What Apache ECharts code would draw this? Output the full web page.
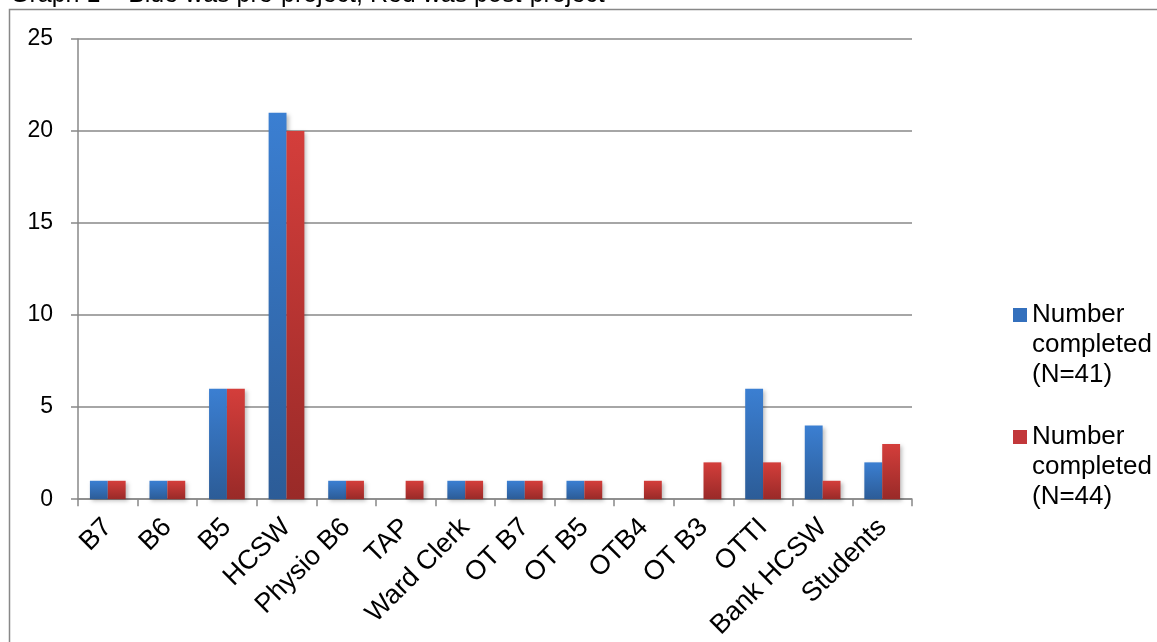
<!DOCTYPE html>
<html><head><meta charset="utf-8">
<script src="https://cdn.jsdelivr.net/npm/echarts@6/dist/echarts.min.js"></script>
<style>html,body{margin:0;padding:0;background:#fff}#c{width:1157px;height:642px}</style>
</head><body><div id="c"></div>
<script>
const categories = ['B7','B6','B5','HCSW','Physio B6','TAP','Ward Clerk','OT B7','OT B5','OTB4','OT B3','OTTI','Bank HCSW','Students'];
const preValues = [1,1,6,21,1,0,1,1,1,0,0,6,4,2];
const postValues = [1,1,6,20,1,1,1,1,1,1,2,2,1,3];
const seriesNames = ['Number\ncompleted\n(N=41)','Number\ncompleted\n(N=44)'];
const yTicks = {min:0, max:25, interval:5};
const titleText = 'Graph 1 – Blue was pre-project, Red was post-project';

const FONT = '"Liberation Sans", Arial, sans-serif';
const chart = echarts.init(document.getElementById('c'), null, {renderer:'canvas'});
const blueGrad = new echarts.graphic.LinearGradient(0,0,0,1,[{offset:0,color:'#3b7fd2'},{offset:1,color:'#2c5c97'}]);
const redGrad = new echarts.graphic.LinearGradient(0,0,0,1,[{offset:0,color:'#d43e3b'},{offset:1,color:'#992a28'}]);
const legendCommon = {
  orient:'vertical', left:1013, padding:0, itemWidth:14, itemHeight:14, icon:'rect',
  textStyle:{fontFamily:FONT, fontSize:26, color:'#000', lineHeight:30},
  formatter: function(name){ return '\n\n' + name; },
  itemGap:0
};
chart.setOption({
  animation:false,
  graphic:[
    {type:'rect', shape:{x:9.5,y:9.5,width:1200,height:700}, style:{fill:'none', stroke:'#888', lineWidth:1.5}, silent:true},
    {type:'text', left:10, top:-17, style:{text:titleText, font:'25px '+FONT, fill:'#000'}}
  ],
  legend:[
    Object.assign({}, legendCommon, {top:240, data:[{name:seriesNames[0], itemStyle:{color:'#3470bd'}}]}),
    Object.assign({}, legendCommon, {top:362, data:[{name:seriesNames[1], itemStyle:{color:'#c2373a'}}]})
  ],
  grid:{left:78, right:245, top:39, bottom:141},
  xAxis:{
    type:'category', data:categories,
    axisLine:{lineStyle:{color:'#888', width:1.5}},
    axisTick:{show:true, length:7, alignWithLabel:false, lineStyle:{color:'#888', width:1.5}},
    axisLabel:{rotate:45, interval:0, fontFamily:FONT, fontSize:27, color:'#000', margin:24}
  },
  yAxis:{
    type:'value', min:yTicks.min, max:yTicks.max, interval:yTicks.interval,
    axisLine:{show:true, lineStyle:{color:'#888', width:1.5}},
    axisTick:{show:true, length:7, lineStyle:{color:'#888', width:1.5}},
    splitLine:{lineStyle:{color:'#888', width:1.5}},
    axisLabel:{fontFamily:FONT, fontSize:23, color:'#000', margin:25}
  },
  series:[
    {name:seriesNames[0], type:'bar', data:preValues, barGap:'0%', barCategoryGap:'40%',
     itemStyle:{color:blueGrad, shadowBlur:4, shadowColor:'rgba(0,0,0,0.25)', shadowOffsetX:2, shadowOffsetY:2}},
    {name:seriesNames[1], type:'bar', data:postValues, barGap:'0%', barCategoryGap:'40%',
     itemStyle:{color:redGrad, shadowBlur:4, shadowColor:'rgba(0,0,0,0.25)', shadowOffsetX:2, shadowOffsetY:2}}
  ]
});
</script></body></html>
